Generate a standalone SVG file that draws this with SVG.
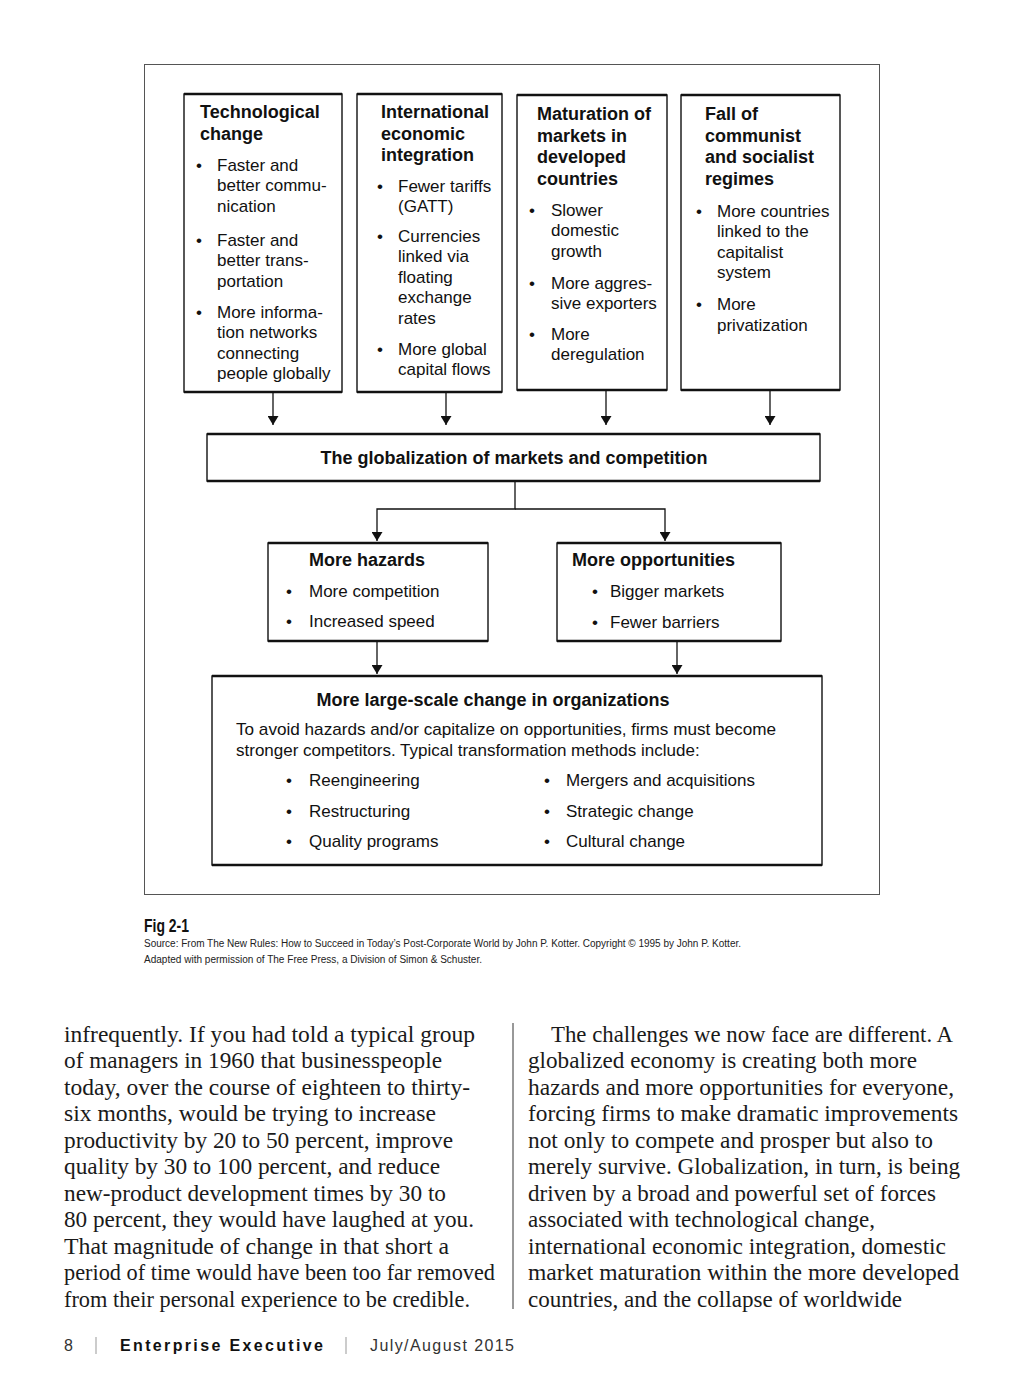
<svg xmlns="http://www.w3.org/2000/svg" width="1024" height="1376" viewBox="0 0 1024 1376">
<defs>
<marker id="arr" markerUnits="userSpaceOnUse" markerWidth="10" markerHeight="11" refX="9" refY="5.5" orient="auto">
<path d="M0,0 L9,5.5 L0,11 z" fill="#111"/>
</marker>
<style>
.box{fill:#fff;stroke:#111;stroke-width:1.4}
.edge{stroke:#111;stroke-width:2.4;fill:none}
.con{stroke:#111;stroke-width:1.3;fill:none}
.t{font-family:"Liberation Sans",Arial,sans-serif;font-size:17px;fill:#111}
.h{font-family:"Liberation Sans",Arial,sans-serif;font-size:18px;font-weight:bold;fill:#111}
.body{font-family:"Liberation Serif","Times New Roman",serif;font-size:23px;fill:#1a1a1a}
.src{font-family:"Liberation Sans Narrow","Liberation Sans",Arial,sans-serif;font-size:10px;fill:#222}
</style>
</defs>
<rect width="1024" height="1376" fill="#fff"/>
<rect x="144.5" y="64.5" width="735" height="830" fill="none" stroke="#555" stroke-width="1"/>

<g id="connectors">
<line class="con" x1="273" y1="392" x2="273" y2="425" marker-end="url(#arr)"/>
<line class="con" x1="446" y1="392" x2="446" y2="425" marker-end="url(#arr)"/>
<line class="con" x1="606" y1="390" x2="606" y2="425" marker-end="url(#arr)"/>
<line class="con" x1="770" y1="390" x2="770" y2="425" marker-end="url(#arr)"/>
<polyline class="con" points="515,481 515,509 377,509 377,541" marker-end="url(#arr)"/>
<polyline class="con" points="515,509 665,509 665,541" marker-end="url(#arr)"/>
<line class="con" x1="377" y1="641" x2="377" y2="674" marker-end="url(#arr)"/>
<line class="con" x1="677" y1="641" x2="677" y2="674" marker-end="url(#arr)"/>
</g>

<g id="tech">
<rect class="box" x="184" y="94" width="158" height="298"/>
<path class="edge" d="M184,94 H342 M184,392 H342"/>
<text class="h" x="200" y="118">Technological</text>
<text class="h" x="200" y="140">change</text>
<text class="t" x="196" y="171">•</text>
<text class="t" x="217" y="171">Faster and</text>
<text class="t" x="217" y="191">better commu-</text>
<text class="t" x="217" y="212">nication</text>
<text class="t" x="196" y="246">•</text>
<text class="t" x="217" y="246">Faster and</text>
<text class="t" x="217" y="266">better trans-</text>
<text class="t" x="217" y="287">portation</text>
<text class="t" x="196" y="318">•</text>
<text class="t" x="217" y="318">More informa-</text>
<text class="t" x="217" y="338">tion networks</text>
<text class="t" x="217" y="359">connecting</text>
<text class="t" x="217" y="379">people globally</text>
</g>

<g id="intl">
<rect class="box" x="357" y="94" width="145" height="298"/>
<path class="edge" d="M357,94 H502 M357,392 H502"/>
<text class="h" x="381" y="118">International</text>
<text class="h" x="381" y="140">economic</text>
<text class="h" x="381" y="161">integration</text>
<text class="t" x="377" y="192">•</text>
<text class="t" x="398" y="192">Fewer tariffs</text>
<text class="t" x="398" y="212">(GATT)</text>
<text class="t" x="377" y="242">•</text>
<text class="t" x="398" y="242">Currencies</text>
<text class="t" x="398" y="262">linked via</text>
<text class="t" x="398" y="283">floating</text>
<text class="t" x="398" y="303">exchange</text>
<text class="t" x="398" y="324">rates</text>
<text class="t" x="377" y="355">•</text>
<text class="t" x="398" y="355">More global</text>
<text class="t" x="398" y="375">capital flows</text>
</g>

<g id="maturation">
<rect class="box" x="517" y="95" width="150" height="295"/>
<path class="edge" d="M517,95 H667 M517,390 H667"/>
<text class="h" x="537" y="120">Maturation of</text>
<text class="h" x="537" y="142">markets in</text>
<text class="h" x="537" y="163">developed</text>
<text class="h" x="537" y="185">countries</text>
<text class="t" x="529" y="216">•</text>
<text class="t" x="551" y="216">Slower</text>
<text class="t" x="551" y="236">domestic</text>
<text class="t" x="551" y="257">growth</text>
<text class="t" x="529" y="289">•</text>
<text class="t" x="551" y="289">More aggres-</text>
<text class="t" x="551" y="309">sive exporters</text>
<text class="t" x="529" y="340">•</text>
<text class="t" x="551" y="340">More</text>
<text class="t" x="551" y="360">deregulation</text>
</g>

<g id="fall">
<rect class="box" x="681" y="95" width="159" height="295"/>
<path class="edge" d="M681,95 H840 M681,390 H840"/>
<text class="h" x="705" y="120">Fall of</text>
<text class="h" x="705" y="142">communist</text>
<text class="h" x="705" y="163">and socialist</text>
<text class="h" x="705" y="185">regimes</text>
<text class="t" x="696" y="217">•</text>
<text class="t" x="717" y="217">More countries</text>
<text class="t" x="717" y="237">linked to the</text>
<text class="t" x="717" y="258">capitalist</text>
<text class="t" x="717" y="278">system</text>
<text class="t" x="696" y="310">•</text>
<text class="t" x="717" y="310">More</text>
<text class="t" x="717" y="331">privatization</text>
</g>

<g id="globalization">
<rect class="box" x="207" y="434" width="613" height="47"/>
<path class="edge" d="M207,434 H820 M207,481 H820"/>
<text class="h" x="514" y="464" text-anchor="middle">The globalization of markets and competition</text>
</g>

<g id="hazards">
<rect class="box" x="268" y="543" width="220" height="98"/>
<path class="edge" d="M268,543 H488 M268,641 H488"/>
<text class="h" x="309" y="566">More hazards</text>
<text class="t" x="286" y="597">•</text>
<text class="t" x="309" y="597">More competition</text>
<text class="t" x="286" y="627">•</text>
<text class="t" x="309" y="627">Increased speed</text>
</g>

<g id="opportunities">
<rect class="box" x="557" y="543" width="224" height="98"/>
<path class="edge" d="M557,543 H781 M557,641 H781"/>
<text class="h" x="572" y="566">More opportunities</text>
<text class="t" x="592" y="597">•</text>
<text class="t" x="610" y="597">Bigger markets</text>
<text class="t" x="592" y="628">•</text>
<text class="t" x="610" y="628">Fewer barriers</text>
</g>

<g id="change">
<rect class="box" x="212" y="676" width="610" height="189"/>
<path class="edge" d="M212,676 H822 M212,865 H822"/>
<text class="h" x="493" y="706" text-anchor="middle">More large-scale change in organizations</text>
<text class="t" x="236" y="735" textLength="540" lengthAdjust="spacingAndGlyphs">To avoid hazards and/or capitalize on opportunities, firms must become</text>
<text class="t" x="236" y="756">stronger competitors. Typical transformation methods include:</text>
<text class="t" x="286" y="786">•</text>
<text class="t" x="309" y="786">Reengineering</text>
<text class="t" x="286" y="817">•</text>
<text class="t" x="309" y="817">Restructuring</text>
<text class="t" x="286" y="847">•</text>
<text class="t" x="309" y="847">Quality programs</text>
<text class="t" x="544" y="786">•</text>
<text class="t" x="566" y="786">Mergers and acquisitions</text>
<text class="t" x="544" y="817">•</text>
<text class="t" x="566" y="817">Strategic change</text>
<text class="t" x="544" y="847">•</text>
<text class="t" x="566" y="847">Cultural change</text>
</g>

<g id="caption">
<text x="144" y="932" font-family="Liberation Sans Narrow,Liberation Sans,Arial,sans-serif" font-size="18" font-weight="bold" fill="#111" textLength="45" lengthAdjust="spacingAndGlyphs">Fig 2-1</text>
<text class="src" x="144" y="947" textLength="597" lengthAdjust="spacingAndGlyphs">Source: From The New Rules: How to Succeed in Today’s Post-Corporate World by John P. Kotter. Copyright © 1995 by John P. Kotter.</text>
<text class="src" x="144" y="963" textLength="338" lengthAdjust="spacingAndGlyphs">Adapted with permission of The Free Press, a Division of Simon &amp; Schuster.</text>
</g>

<g id="article">
<text class="body" x="64" y="1042" textLength="411" lengthAdjust="spacingAndGlyphs">infrequently. If you had told a typical group</text>
<text class="body" x="64" y="1068" textLength="378" lengthAdjust="spacingAndGlyphs">of managers in 1960 that businesspeople</text>
<text class="body" x="64" y="1095" textLength="406" lengthAdjust="spacingAndGlyphs">today, over the course of eighteen to thirty-</text>
<text class="body" x="64" y="1121" textLength="372" lengthAdjust="spacingAndGlyphs">six months, would be trying to increase</text>
<text class="body" x="64" y="1148" textLength="389" lengthAdjust="spacingAndGlyphs">productivity by 20 to 50 percent, improve</text>
<text class="body" x="64" y="1174" textLength="376" lengthAdjust="spacingAndGlyphs">quality by 30 to 100 percent, and reduce</text>
<text class="body" x="64" y="1201" textLength="382" lengthAdjust="spacingAndGlyphs">new-product development times by 30 to</text>
<text class="body" x="64" y="1227" textLength="410" lengthAdjust="spacingAndGlyphs">80 percent, they would have laughed at you.</text>
<text class="body" x="64" y="1254" textLength="385" lengthAdjust="spacingAndGlyphs">That magnitude of change in that short a</text>
<text class="body" x="64" y="1280" textLength="431" lengthAdjust="spacingAndGlyphs">period of time would have been too far removed</text>
<text class="body" x="64" y="1307" textLength="406" lengthAdjust="spacingAndGlyphs">from their personal experience to be credible.</text>
<line x1="513" y1="1023" x2="513" y2="1309" stroke="#333" stroke-width="1"/>
<text class="body" x="551" y="1042" textLength="402" lengthAdjust="spacingAndGlyphs">The challenges we now face are different. A</text>
<text class="body" x="528" y="1068" textLength="389" lengthAdjust="spacingAndGlyphs">globalized economy is creating both more</text>
<text class="body" x="528" y="1095" textLength="426" lengthAdjust="spacingAndGlyphs">hazards and more opportunities for everyone,</text>
<text class="body" x="528" y="1121" textLength="430" lengthAdjust="spacingAndGlyphs">forcing firms to make dramatic improvements</text>
<text class="body" x="528" y="1148" textLength="405" lengthAdjust="spacingAndGlyphs">not only to compete and prosper but also to</text>
<text class="body" x="528" y="1174" textLength="432" lengthAdjust="spacingAndGlyphs">merely survive. Globalization, in turn, is being</text>
<text class="body" x="528" y="1201" textLength="408" lengthAdjust="spacingAndGlyphs">driven by a broad and powerful set of forces</text>
<text class="body" x="528" y="1227" textLength="347" lengthAdjust="spacingAndGlyphs">associated with technological change,</text>
<text class="body" x="528" y="1254" textLength="418" lengthAdjust="spacingAndGlyphs">international economic integration, domestic</text>
<text class="body" x="528" y="1280" textLength="431" lengthAdjust="spacingAndGlyphs">market maturation within the more developed</text>
<text class="body" x="528" y="1307" textLength="374" lengthAdjust="spacingAndGlyphs">countries, and the collapse of worldwide</text>
</g>

<g id="footer">
<text x="64" y="1351" font-family="Liberation Sans,Arial,sans-serif" font-size="16" fill="#333">8</text>
<line x1="96" y1="1337" x2="96" y2="1354" stroke="#aaa" stroke-width="1.2"/>
<text x="120" y="1351" font-family="Liberation Sans,Arial,sans-serif" font-size="16" font-weight="bold" fill="#111" textLength="203" lengthAdjust="spacing">Enterprise Executive</text>
<line x1="346" y1="1337" x2="346" y2="1354" stroke="#aaa" stroke-width="1.2"/>
<text x="370" y="1351" font-family="Liberation Sans,Arial,sans-serif" font-size="16" fill="#333" textLength="144" lengthAdjust="spacing">July/August 2015</text>
</g>
</svg>
